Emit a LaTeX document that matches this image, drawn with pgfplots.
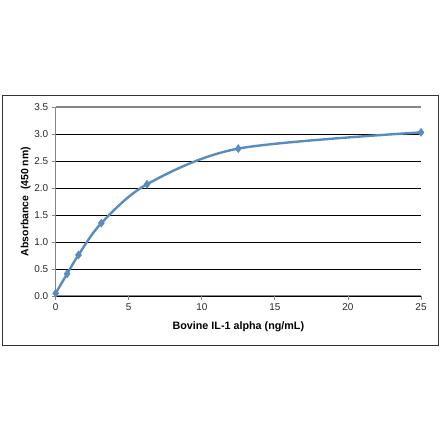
\documentclass[border=0pt]{standalone}
\usepackage{pgfplots}
\pgfplotsset{compat=1.18}
\usepackage{fontspec}
\setmainfont{Liberation Sans}
\definecolor{curve}{RGB}{88,140,192}
\definecolor{axgray}{RGB}{134,134,134}
\definecolor{ticktext}{RGB}{40,40,40}
\begin{document}
\begin{tikzpicture}[x=1bp,y=1bp]
\path (0,0) rectangle (440,441);
\draw[black!80, line width=0.9bp] (2,96) rectangle (438,346);
\begin{axis}[
    at={(55.7bp,145bp)}, anchor=south west,
    scale only axis, width=365.3bp, height=189bp,
    xmin=0, xmax=25, ymin=0, ymax=3.5,
    xtick={0,5,...,25}, ytick={0,0.5,...,3.5},
    axis x line*=bottom, axis y line*=left,
    axis line style={axgray, line width=1bp, -},
    tick style={axgray, line width=0.8bp},
    tick align=outside, major tick length=4bp,
    ymajorgrids, grid style={black, line width=0.8bp},
    extra y ticks={3.5}, extra y tick labels={},
    extra y tick style={grid style={axgray, line width=1.3bp}},
    yticklabel style={/pgf/number format/.cd, fixed, fixed zerofill, precision=1},
    ticklabel style={font=\fontsize{10}{11}\selectfont, text=ticktext},
    /pgf/number format/assume math mode=true,
    xlabel={\textbf{Bovine IL-1 alpha (ng/mL)}},
    ylabel={\textbf{Absorbance\ \ (450 nm)}},
    xlabel style={font=\fontsize{10.8}{12}\selectfont, yshift=-4bp},
    ylabel style={font=\fontsize{10.5}{12}\selectfont, yshift=-11bp},
    clip=false,
]
\addplot[curve, line width=2.4bp, smooth, mark=diamond*, mark size=4bp,
    mark options={fill=curve, draw=curve, line width=0.5bp}]
    coordinates {(0,0.05) (0.78,0.41) (1.56,0.76) (3.125,1.35) (6.25,2.07) (12.5,2.73) (25,3.03)};
\end{axis}
\end{tikzpicture}
\end{document}
